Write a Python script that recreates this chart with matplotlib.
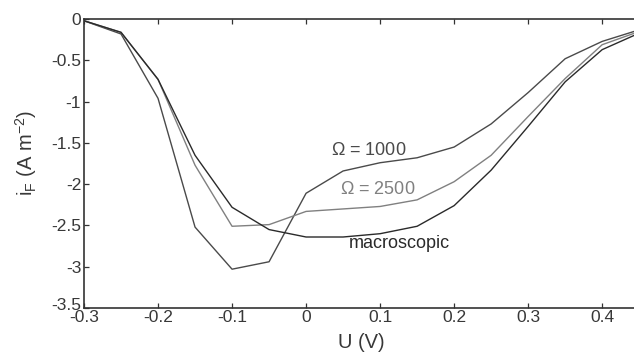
import numpy as np
import matplotlib
matplotlib.use("Agg")
import matplotlib.pyplot as plt
import matplotlib.transforms as mtransforms

plt.rcParams['font.family'] = ['Liberation Sans', 'DejaVu Sans']
plt.rcParams['mathtext.default'] = 'regular'

# potential (V)
U = [-0.3, -0.25, -0.2, -0.15, -0.1, -0.05, 0.0, 0.05, 0.1, 0.15, 0.2,
     0.25, 0.3, 0.35, 0.4, 0.45]
# faradaic current density (A m^-2)
i_1000 = [-0.02, -0.18, -0.96, -2.52, -3.03, -2.94, -2.11, -1.84, -1.74,
          -1.68, -1.55, -1.27, -0.89, -0.48, -0.27, -0.13]
i_2500 = [-0.02, -0.16, -0.73, -1.77, -2.51, -2.49, -2.33, -2.30, -2.27,
          -2.19, -1.97, -1.65, -1.18, -0.72, -0.31, -0.15]
i_macro = [-0.02, -0.16, -0.73, -1.65, -2.28, -2.55, -2.64, -2.64, -2.60,
           -2.51, -2.26, -1.83, -1.30, -0.76, -0.37, -0.17]

fig = plt.figure(figsize=(6.34, 3.54), dpi=100)
ax = fig.add_axes([0.1325, 0.13, 0.8675, 0.816])

ax.plot(U, i_1000, color='#4a4a4a', lw=1.0)
ax.plot(U, i_2500, color='#808080', lw=1.0)
ax.plot(U, i_macro, color='#2a2a2a', lw=1.0)

ax.text(0.085, -1.59, r'$\Omega$ = 1000', color='#4a4a4a', fontsize=13,
        ha='center', va='center')
ax.text(0.097, -2.06, r'$\Omega$ = 2500', color='#808080', fontsize=13,
        ha='center', va='center')
ax.text(0.126, -2.72, 'macroscopic', color='#2a2a2a', fontsize=13,
        ha='center', va='center')

ax.set_xlim(-0.3, 0.443)
ax.set_ylim(-3.5, 0)
ax.set_xticks([-0.3, -0.2, -0.1, 0, 0.1, 0.2, 0.3, 0.4])
ax.set_xticklabels(['-0.3', '-0.2', '-0.1', '0', '0.1', '0.2', '0.3', '0.4'])
ax.set_yticks([0, -0.5, -1, -1.5, -2, -2.5, -3, -3.5])
ax.set_yticklabels(['0', '-0.5', '-1', '-1.5', '-2', '-2.5', '-3', '-3.5'])

ax.tick_params(direction='in', length=3.5, width=0.9, colors='#333333',
               labelsize=12.5, top=True, labelcolor='#383838')
ax.tick_params(axis='x', pad=1.5)
ax.tick_params(axis='y', pad=2)
for s in ['left', 'bottom', 'top']:
    ax.spines[s].set_linewidth(1.2)
    ax.spines[s].set_color('#333333')
ax.spines['right'].set_visible(False)

# nudge the bottom y label up a touch so it does not sit on the -0.3 label
lab = ax.get_yticklabels()[-1]
lab.set_transform(lab.get_transform() +
                  mtransforms.ScaledTranslation(0, 3 / 72, fig.dpi_scale_trans))

ax.set_xlabel('U (V)', fontsize=14.5, color='#383838')
ax.xaxis.set_label_coords(0.505, -0.085)
ax.set_ylabel(r'i$_F$ (A m$^{-2}$)', fontsize=14.5, color='#383838')
ax.yaxis.set_label_coords(-0.082, 0.535)

fig.savefig('out.png', dpi=100)
